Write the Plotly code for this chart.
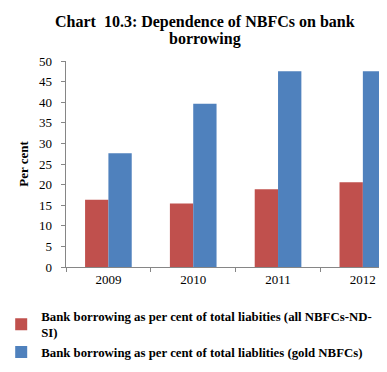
import plotly.graph_objects as go

years = ["2009", "2010", "2011", "2012"]
all_nbfc = [16.3, 15.4, 18.9, 20.6]
gold_nbfc = [27.6, 39.6, 47.5, 47.5]
name_all = "<b>Bank borrowing as per cent of total liabities (all NBFCs-ND-<br>SI)</b>"
name_gold = "<b>Bank borrowing as per cent of total liablities (gold NBFCs)</b>"
title_line1 = "Chart  10.3: Dependence of NBFCs on bank"
title_line2 = "borrowing"

font_family = "Liberation Serif, Times New Roman, serif"

fig = go.Figure()
fig.add_trace(go.Bar(x=years, y=all_nbfc, name=name_all, marker=dict(color="#C0504D", line=dict(width=0))))
fig.add_trace(go.Bar(x=years, y=gold_nbfc, name=name_gold, marker=dict(color="#4F81BD", line=dict(width=0))))

for txt, yy in [(title_line1, 14), (title_line2, 31)]:
    fig.add_annotation(text="<b>" + txt + "</b>", xref="paper", yref="paper",
                       x=(197 - 58) / 324, y=(259 - yy) / 206, xanchor="center", yanchor="middle",
                       showarrow=False, font=dict(size=16, family=font_family, color="black"))

fig.update_layout(
    width=387, height=372,
    margin=dict(l=58, r=5, t=53, b=113, autoexpand=False),
    paper_bgcolor="white", plot_bgcolor="white",
    font=dict(family=font_family, size=13, color="black"),
    barmode="group", bargap=0.45, bargroupgap=0,
    showlegend=True,
    legend=dict(x=-0.2, y=-0.165, xanchor="left", yanchor="top",
                font=dict(size=12.8, family=font_family), itemsizing="constant",
                traceorder="grouped", tracegroupgap=15, bgcolor="rgba(0,0,0,0)"),
    xaxis=dict(range=[-0.5, 3.32], showline=True, linecolor="#868686", linewidth=1,
               ticks="outside", tickson="boundaries", ticklen=4, tickcolor="#868686",
               tickfont=dict(size=13), showgrid=False),
    yaxis=dict(range=[0, 50], dtick=5, showline=True, linecolor="#868686", linewidth=1,
               ticks="outside", ticklen=4, tickcolor="#868686", showgrid=False,
               tickfont=dict(size=13), zeroline=False, ticksuffix="\u00a0\u00a0",
               title=dict(text="<b>Per cent</b>", font=dict(size=13), standoff=7)),
)

fig.write_html("out.html")
